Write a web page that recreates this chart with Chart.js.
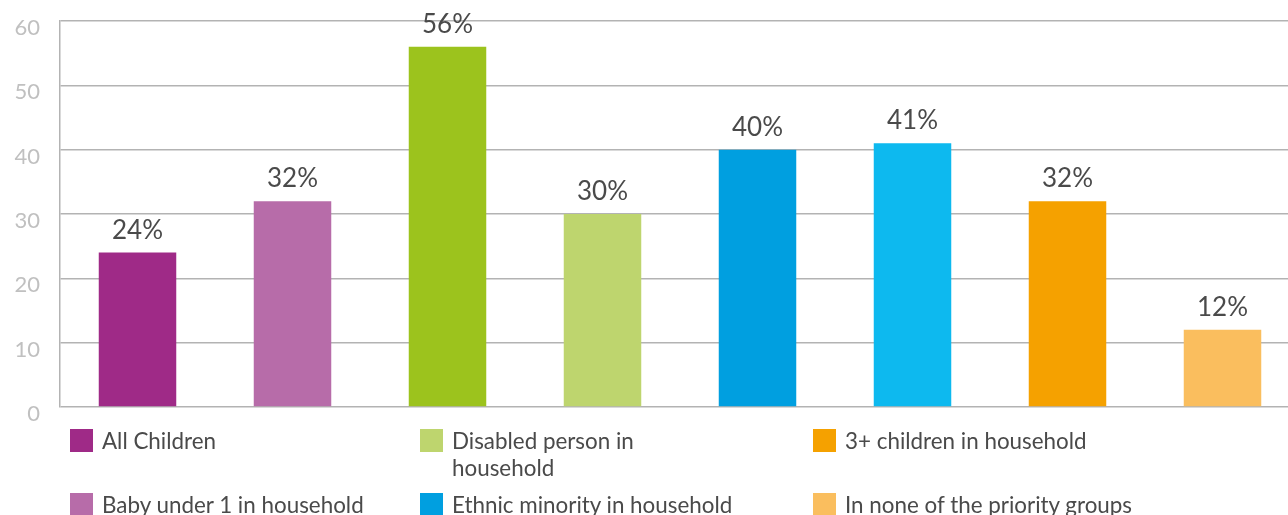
<!DOCTYPE html>
<html>
<head>
<meta charset="utf-8">
<script src="https://cdn.jsdelivr.net/npm/chart.js@4"></script>
<style>
	html, body { margin: 0; padding: 0; background: #fff; overflow: hidden; }
	body { width: 1288px; height: 515px; position: relative; font-family: 'Lato', sans-serif; }
	#wrap { position: absolute; left: 0; top: 0; width: 1300px; height: 430px; }
	#legend {
		position: absolute; left: 70px; top: 427px;
		display: grid; grid-template-columns: 350px 393px 400px;
		grid-template-rows: 64px 30px; grid-auto-flow: column;
		color: #4a4a4a; font-size: 22.4px; line-height: 27px;
	}
	.item { display: flex; align-items: flex-start; }
	.sw { width: 23px; height: 23px; margin-right: 9px; flex: none; margin-top: 2px; }
</style>
</head>
<body>
<div id="wrap"><canvas id="chart"></canvas></div>
<div id="legend"></div>
<script>
const categories = ['All', 'Baby', 'Disabled A', 'Disabled B', 'Ethnic A', 'Ethnic B', 'Large A', 'Large B'];
const values = [24, 32, 56, 30, 40, 41, 32, 12];
const barColors = ['#9f2a87', '#b76ca9', '#9cc31d', '#bed56e', '#009fe0', '#0db9ef', '#f5a100', '#fabe5e'];
const yTicks = [0, 10, 20, 30, 40, 50, 60];

const legendLabels = ['All Children', 'Baby under 1 in household', 'Disabled person in\nhousehold', 'Ethnic minority in household', '3+ children in household', 'In none of the priority groups'];
const legendColors = ['#9f2a87', '#b76ca9', '#bed56e', '#009fe0', '#f5a100', '#fabe5e'];

// legend built as html so the wrapped label sits like the original
var legend = document.getElementById('legend');
legendLabels.forEach(function (label, i) {
	var item = document.createElement('div');
	item.className = 'item';
	var sw = document.createElement('span');
	sw.className = 'sw';
	sw.style.background = legendColors[i];
	var txt = document.createElement('span');
	txt.innerHTML = label.replace('\n', '<br>');
	item.appendChild(sw);
	item.appendChild(txt);
	legend.appendChild(item);
});

// percent labels above each bar
const valueLabels = {
	id: 'valueLabels',
	afterDatasetsDraw(chart) {
		var ctx = chart.ctx;
		var meta = chart.getDatasetMeta(0);
		ctx.save();
		ctx.font = '26px Lato';
		ctx.fillStyle = '#4a4a4a';
		ctx.textAlign = 'center';
		ctx.textBaseline = 'alphabetic';
		meta.data.forEach(function (bar, i) {
			ctx.fillText(values[i] + '%', bar.x, bar.y - 14);
		});
		ctx.restore();
	}
};

new Chart(document.getElementById('chart'), {
	type: 'bar',
	data: {
		labels: categories,
		datasets: [
			{
				label: 'Share',
				data: values,
				backgroundColor: barColors,
				borderWidth: 0,
				categoryPercentage: 1,
				barPercentage: 0.5
			}
		]
	},
	options: {
		responsive: true,
		maintainAspectRatio: false,
		animation: false,
		layout: { padding: { top: 21, bottom: 23, left: 0, right: 0 } },
		plugins: {
			legend: { display: false },
			tooltip: { enabled: false }
		},
		scales: {
			x: {
				display: false
			},
			y: {
				min: 0,
				max: 60,
				afterBuildTicks: function (scale) {
					scale.ticks = yTicks.map(function (v) { return { value: v }; });
				},
				afterFit: function (scale) {
					scale.width = 60;
					scale.paddingTop = 0;
					scale.paddingBottom = 0;
				},
				border: { display: true, color: '#b3b3b3', width: 1.5 },
				grid: { color: '#b3b3b3', lineWidth: 1.5, drawTicks: false },
				ticks: {
					color: '#c0c0c0',
					font: { family: 'Lato', size: 22 },
					padding: 20,
					labelOffset: 7
				}
			}
		}
	},
	plugins: [valueLabels]
});
</script>
</body>
</html>
